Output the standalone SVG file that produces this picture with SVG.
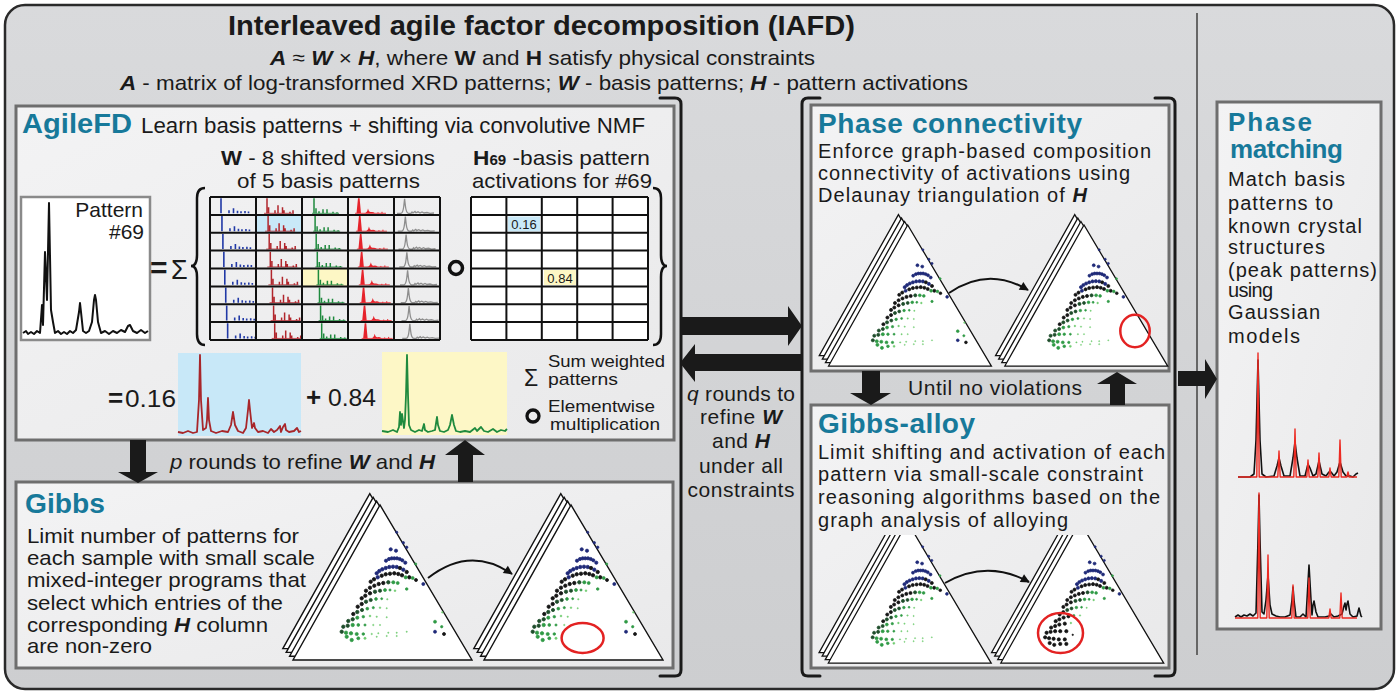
<svg xmlns="http://www.w3.org/2000/svg" width="1400" height="695" viewBox="0 0 1400 695">
<style>
.t{font-family:"Liberation Sans",Arial,sans-serif;fill:#1a1a1a}
.b{font-weight:bold}
.bi{font-weight:bold;font-style:italic}
.i{font-style:italic}
.teal{fill:#17799a;font-weight:bold}
.box{fill:url(#bx);stroke:#6e6e6e;stroke-width:3}
.arr{fill:#1a1a1a}
.brk{fill:none;stroke:#1a1a1a;stroke-width:3;stroke-linecap:round;stroke-linejoin:round}
.grid{fill:none;stroke:#111;stroke-width:2}
.tri{fill:#fff;stroke:#111;stroke-width:1.4}
.nv{fill:#1f2a78;stroke:#1f2a78;stroke-width:0.8}
.bk{fill:#151515;stroke:#151515;stroke-width:0.8}
.dg{fill:#1e4d2b;stroke:#1e4d2b;stroke-width:0.8}
.gr{fill:#2f9a45;stroke:#2f9a45;stroke-width:0.7}
.lg{fill:#72cc72;stroke:#72cc72;stroke-width:0.4}
.red{fill:none;stroke:#e32222;stroke-width:2.5}
.cv{fill:none;stroke:#111;stroke-width:2}
</style>
<defs>
<linearGradient id="bg" x1="0" y1="0" x2="0" y2="1"><stop offset="0" stop-color="#d9dadc"/><stop offset="1" stop-color="#cdced0"/></linearGradient>
<linearGradient id="bx" x1="0" y1="0" x2="1" y2="1"><stop offset="0" stop-color="#f3f3f4"/><stop offset="1" stop-color="#e9e9ea"/></linearGradient>
<marker id="ah" viewBox="0 0 10 10" refX="9" refY="5" markerWidth="11" markerHeight="9" markerUnits="userSpaceOnUse" orient="auto"><path d="M0,0 L10,5 L0,10 z" fill="#111"/></marker>
<clipPath id="clipAlloy"><rect x="815" y="535" width="352" height="132"/></clipPath>
<g id="tstack">
<polygon class="tri" points="-10.2,-11.4 -97.2,143.6 81.8,143.6"/>
<polygon class="tri" points="-6.8,-7.6 -93.8,147.4 85.2,147.4"/>
<polygon class="tri" points="-3.4,-3.8 -90.4,151.2 88.6,151.2"/>
<polygon class="tri" points="0,0 -87,155 92,155"/>
</g>
<g id="dA">
<circle class="nv" cx="16.7" cy="27.3" r="1.1"/><circle class="nv" cx="23.3" cy="37.7" r="1.2"/><circle class="nv" cx="26.7" cy="42.3" r="1.2"/>
<circle class="nv" cx="10.7" cy="44.3" r="1.6"/><circle class="nv" cx="16" cy="45.7" r="1.6"/>
<circle class="nv" cx="6" cy="55.7" r="1.6"/><circle class="nv" cx="9" cy="54" r="1.6"/><circle class="nv" cx="11.7" cy="53.3" r="1.6"/><circle class="nv" cx="14.3" cy="53.3" r="1.6"/><circle class="nv" cx="17" cy="53.3" r="1.6"/><circle class="nv" cx="19.7" cy="54" r="1.6"/><circle class="nv" cx="22.3" cy="55.3" r="1.6"/><circle class="nv" cx="25.3" cy="57.7" r="1.6"/>
<circle class="gr" cx="35.7" cy="59" r="1.1"/>
<circle class="nv" cx="-3.3" cy="68.3" r="1.7"/><circle class="nv" cx="-0.7" cy="66" r="1.7"/><circle class="nv" cx="2.3" cy="64.3" r="1.7"/><circle class="nv" cx="5.7" cy="63" r="1.7"/><circle class="nv" cx="9.3" cy="62" r="1.7"/><circle class="nv" cx="13" cy="61.7" r="1.7"/><circle class="nv" cx="16.7" cy="62" r="1.7"/><circle class="bk" cx="20" cy="63" r="1.7"/><circle class="nv" cx="23.3" cy="64.7" r="1.7"/><circle class="bk" cx="26.7" cy="67" r="1.7"/>
<circle class="bk" cx="29.3" cy="72.3" r="1.7"/><circle class="gr" cx="32.7" cy="73" r="1.5"/><circle class="bk" cx="36" cy="75" r="1.5"/><circle class="nv" cx="43.3" cy="79" r="1.5"/>
<circle class="bk" cx="-9.3" cy="76.7" r="1.7"/><circle class="bk" cx="-6" cy="74.3" r="1.7"/><circle class="nv" cx="-2.3" cy="72.3" r="1.7"/><circle class="bk" cx="1.7" cy="70.7" r="1.7"/><circle class="bk" cx="5.7" cy="69.3" r="1.7"/><circle class="bk" cx="10" cy="68.7" r="1.7"/><circle class="bk" cx="14.3" cy="68.3" r="1.7"/><circle class="bk" cx="18.3" cy="69" r="1.7"/><circle class="bk" cx="22" cy="70.3" r="1.7"/><circle class="gr" cx="25.7" cy="72.3" r="1.6"/>
<circle class="bk" cx="-14" cy="85.7" r="1.7"/><circle class="bk" cx="-10" cy="82.7" r="1.7"/><circle class="bk" cx="-5.7" cy="80.7" r="1.7"/><circle class="bk" cx="-1.3" cy="79" r="1.7"/><circle class="bk" cx="3.3" cy="78" r="1.7"/><circle class="dg" cx="8.3" cy="77.3" r="1.7"/><circle class="gr" cx="13.3" cy="77.3" r="1.6"/><circle class="gr" cx="17.7" cy="78" r="1.5"/><circle class="gr" cx="26.7" cy="84" r="1.3"/>
<circle class="bk" cx="-18.3" cy="93.3" r="1.7"/><circle class="bk" cx="-14.7" cy="90.7" r="1.7"/><circle class="bk" cx="-10" cy="88.3" r="1.7"/><circle class="dg" cx="-5" cy="86.7" r="1.7"/><circle class="dg" cx="0" cy="85.7" r="1.6"/><circle class="gr" cx="5" cy="85" r="1.5"/><circle class="gr" cx="10" cy="85" r="1.1"/><circle class="lg" cx="15" cy="85.7" r="1"/>
<circle class="bk" cx="-22.3" cy="101.7" r="1.7"/><circle class="bk" cx="-18.3" cy="99" r="1.7"/><circle class="dg" cx="-14" cy="96.7" r="1.7"/><circle class="dg" cx="-9.3" cy="95" r="1.6"/><circle class="gr" cx="-4" cy="94" r="1.4"/><circle class="gr" cx="1.7" cy="93.7" r="1"/><circle class="lg" cx="7.3" cy="94.3" r="0.8"/>
</g>
<g id="dLL">
<circle class="bk" cx="-26.7" cy="109" r="1.7"/><circle class="dg" cx="-22.7" cy="107" r="1.7"/><circle class="dg" cx="-18" cy="105" r="1.6"/><circle class="gr" cx="-12.7" cy="103.7" r="1.4"/><circle class="gr" cx="-6.7" cy="102.7" r="1.1"/><circle class="lg" cx="0" cy="102.7" r="0.9"/><circle class="lg" cx="6.7" cy="103.3" r="0.7"/>
<circle class="dg" cx="-31.7" cy="116" r="1.7"/><circle class="dg" cx="-27.3" cy="114.3" r="1.7"/><circle class="gr" cx="-22.7" cy="112.7" r="1.6"/><circle class="gr" cx="-16.7" cy="111.7" r="1.3"/><circle class="lg" cx="-10" cy="111" r="1"/><circle class="lg" cx="-3.3" cy="111.7" r="0.8"/>
<circle class="dg" cx="-36.7" cy="121.7" r="1.7"/><circle class="dg" cx="-32.3" cy="120.7" r="1.7"/><circle class="gr" cx="-27.3" cy="120" r="1.7"/><circle class="gr" cx="-21.7" cy="120" r="1.4"/><circle class="gr" cx="-15" cy="120" r="1.1"/><circle class="lg" cx="-6.7" cy="120" r="0.8"/>
<circle class="dg" cx="-38.3" cy="126.7" r="1.7"/><circle class="gr" cx="-34" cy="127.7" r="1.7"/><circle class="gr" cx="-29" cy="128.3" r="1.7"/><circle class="gr" cx="-23.3" cy="129" r="1.6"/><circle class="gr" cx="-16.7" cy="129" r="1.3"/>
<circle class="gr" cx="-33.3" cy="131.7" r="1.7"/><circle class="gr" cx="-28.3" cy="135" r="1.7"/><circle class="gr" cx="-21.7" cy="133.3" r="1.5"/><circle class="lg" cx="-15" cy="133.3" r="1.2"/>
</g>
<g id="dLLb">
<circle class="bk" cx="-26.7" cy="109" r="1.8"/><circle class="bk" cx="-22.7" cy="107" r="1.8"/><circle class="bk" cx="-18" cy="105" r="1.8"/><circle class="bk" cx="-12.7" cy="103.7" r="1.7"/><circle class="gr" cx="-6.7" cy="102.7" r="1.1"/><circle class="lg" cx="0" cy="102.7" r="0.9"/>
<circle class="bk" cx="-31.7" cy="116" r="1.8"/><circle class="bk" cx="-27.3" cy="114.3" r="1.8"/><circle class="bk" cx="-22.7" cy="112.7" r="1.8"/><circle class="bk" cx="-16.7" cy="111.7" r="1.8"/><circle class="lg" cx="-10" cy="111" r="1"/>
<circle class="bk" cx="-36.7" cy="121.7" r="1.8"/><circle class="bk" cx="-32.3" cy="120.7" r="1.8"/><circle class="bk" cx="-27.3" cy="120" r="1.8"/><circle class="bk" cx="-21.7" cy="120" r="1.8"/><circle class="bk" cx="-15" cy="120" r="1.8"/>
<circle class="bk" cx="-38.3" cy="126.7" r="1.8"/><circle class="bk" cx="-34" cy="127.7" r="1.8"/><circle class="bk" cx="-29" cy="128.3" r="1.8"/><circle class="bk" cx="-23.3" cy="129" r="1.8"/><circle class="bk" cx="-16.7" cy="129" r="1.8"/>
<circle class="bk" cx="-33.3" cy="133" r="1.8"/><circle class="bk" cx="-28.3" cy="135" r="1.8"/><circle class="bk" cx="-21.7" cy="134" r="1.8"/><circle class="bk" cx="-15" cy="134" r="1.8"/><circle class="bk" cx="-8" cy="124" r="0.8"/>
</g>
<g id="dTiny">
<circle class="lg" cx="0" cy="120" r="0.7"/><circle class="lg" cx="-8.3" cy="129" r="0.8"/><circle class="lg" cx="-1.7" cy="128.3" r="0.7"/><circle class="lg" cx="8.3" cy="127.7" r="0.7"/><circle class="lg" cx="16.7" cy="127.7" r="0.7"/><circle class="lg" cx="26.7" cy="126.7" r="0.7"/><circle class="lg" cx="-3.3" cy="131.7" r="0.7"/><circle class="lg" cx="6.7" cy="131" r="0.7"/><circle class="lg" cx="16.7" cy="131" r="0.7"/><circle class="lg" cx="6.7" cy="112.3" r="0.7"/>
</g>
<g id="dIso">
<circle class="lg" cx="62.3" cy="107.3" r="0.9"/><circle class="gr" cx="55" cy="116.7" r="1.5"/><circle class="gr" cx="61.7" cy="121.7" r="1.2"/><circle class="nv" cx="55" cy="126.7" r="1.5"/><circle class="bk" cx="64" cy="129" r="1.5"/>
</g>
<g id="p1"><path d="M11,16.3V1.2 M19,16.3v-3 M23.5,16.3v-5 M27.5,16.3v-2.5 M31,16.3v-2 M35,16.3v-2.2 M38.5,16.3v-1.8" stroke="#2139a6" stroke-width="1.6" fill="none"/></g>
<g id="p2"><path d="M8,16.3H38" stroke="#b1262c" stroke-width="0.8"/><path d="M11,16.3V1.2 M12.6,16.3v-6 M19,16.3v-3 M22,16.3v-8 M26.5,16.3v-6 M28,16.3v-3 M34,16.3v-1.5 M37,16.3v-3" stroke="#b1262c" stroke-width="1.5" fill="none"/></g>
<g id="p3"><path d="M10,16.3H37" stroke="#1f8a3e" stroke-width="0.8"/><path d="M12,16.3V1.2 M14,16.3v-5 M17,16.3v-2 M21,16.3v-4 M25,16.3v-4 M31,16.3v-1.5 M35,16.3v-1" stroke="#1f8a3e" stroke-width="1.5" fill="none"/></g>
<g id="p4"><path d="M7,16.3H38" stroke="#e6232b" stroke-width="0.8"/><path d="M8.5,16.3 L10,1.2 L11.6,1.2 L13,16.3 Z M16,16.3 Q19,16.3 20,11.5 Q21,15.5 23,15 Q25,14.5 27,16.3 Z" fill="#e6232b"/><path d="M30,16.3v-1 M34,16.3v-1.5" stroke="#e6232b" stroke-width="1"/></g>
<g id="p5"><path d="M3,16.3 L7,16.3 Q9,16 9.8,9 L10.6,1.8 L11.4,9 Q12.2,16 14.5,16.3 L17,16.3 L18,15 L19,16 L21,14.5 L22,15.8 L24,14.8 L26,16 L28,15 L30,16 L33,15.5 L36,16.3 L40,16" stroke="#8e8e8e" stroke-width="1.3" fill="none"/></g>
</defs>

<rect x="5" y="5" width="1389" height="684" rx="20" fill="url(#bg)" stroke="#2a2a2a" stroke-width="2.5"/>
<line x1="1197" y1="13" x2="1197" y2="655" stroke="#666" stroke-width="2"/>

<g id="title">
<text class="t b" x="228" y="35" font-size="28" textLength="627" lengthAdjust="spacingAndGlyphs">Interleaved agile factor decomposition (IAFD)</text>
<text class="t" x="270" y="65" font-size="21" textLength="545" lengthAdjust="spacingAndGlyphs"><tspan class="bi">A</tspan> ≈ <tspan class="bi">W</tspan> × <tspan class="bi">H</tspan>, where <tspan class="b">W</tspan> and <tspan class="b">H</tspan> satisfy physical constraints</text>
<text class="t" x="120" y="90" font-size="21" textLength="848" lengthAdjust="spacingAndGlyphs"><tspan class="bi">A</tspan> - matrix of log-transformed XRD patterns; <tspan class="bi">W</tspan> - basis patterns; <tspan class="bi">H</tspan> - pattern activations</text>
</g>

<g id="agilefd">
<rect class="box" x="16" y="106" width="658" height="334"/>
<text class="t teal" x="22" y="133" font-size="27" textLength="110" lengthAdjust="spacingAndGlyphs">AgileFD</text>
<text class="t" x="141" y="133" font-size="22" textLength="504" lengthAdjust="spacingAndGlyphs">Learn basis patterns + shifting via convolutive NMF</text>
<text class="t" x="221" y="165" font-size="21" textLength="214" lengthAdjust="spacingAndGlyphs"><tspan class="b">W</tspan> - 8 shifted versions</text>
<text class="t" x="237" y="188" font-size="21" textLength="183" lengthAdjust="spacingAndGlyphs">of 5 basis patterns</text>
<text class="t" x="473" y="165" font-size="21" textLength="177" lengthAdjust="spacingAndGlyphs"><tspan class="b">H</tspan><tspan class="b" font-size="14">69</tspan> -basis pattern</text>
<text class="t" x="472" y="188" font-size="21" textLength="180" lengthAdjust="spacingAndGlyphs">activations for #69</text>
<rect x="21" y="197" width="129" height="143" fill="#fff" stroke="#8a8a8a" stroke-width="2.5"/>
<text class="t" x="143" y="217" font-size="21" text-anchor="end">Pattern</text>
<text class="t" x="144" y="239" font-size="21" text-anchor="end">#69</text>
<path d="M23,333 L26,331 L28,334 L31,332 L34,334 L37,331 L40,333 L42,305 L43,325 L45,252 L47,300 L49,203 L51,310 L53,322 L55,333 L58,331 L61,334 L64,332 L67,334 L70,331 L73,333 L76,330 L79,312 L80,303 L81,312 L83,331 L86,333 L89,331 L92,322 L94,300 L95,295 L96,300 L98,322 L101,333 L105,331 L109,334 L113,331 L117,333 L121,330 L125,332 L128,326 L130,325 L133,331 L137,333 L141,330 L145,333 L148,331" fill="none" stroke="#111" stroke-width="2" stroke-linejoin="round"/>
<text class="t b" x="150" y="278" font-size="30">=</text>
<text class="t" x="171" y="279" font-size="27">Σ</text>
<path d="M205,188 Q197,188 197,198 L197,255 Q197,266 191,266 Q197,266 197,277 L197,334 Q197,345 205,345" fill="none" stroke="#111" stroke-width="2.5"/>
<rect x="256" y="214.9" width="46" height="17.85" fill="#c9e9f8"/>
<rect x="302" y="268.5" width="46" height="17.9" fill="#fdf7c5"/>
<use href="#p1" x="210" y="197"/><use href="#p1" x="210.95" y="214.875"/><use href="#p1" x="211.9" y="232.75"/><use href="#p1" x="212.85" y="250.625"/><use href="#p1" x="213.8" y="268.5"/><use href="#p1" x="214.75" y="286.375"/><use href="#p1" x="215.7" y="304.25"/><use href="#p1" x="216.65" y="322.125"/>
<use href="#p2" x="256" y="197"/><use href="#p2" x="257.1" y="214.875"/><use href="#p2" x="258.2" y="232.75"/><use href="#p2" x="259.3" y="250.625"/><use href="#p2" x="260.4" y="268.5"/><use href="#p2" x="261.5" y="286.375"/><use href="#p2" x="262.6" y="304.25"/><use href="#p2" x="263.7" y="322.125"/>
<use href="#p3" x="302" y="197"/><use href="#p3" x="303.1" y="214.875"/><use href="#p3" x="304.2" y="232.75"/><use href="#p3" x="305.3" y="250.625"/><use href="#p3" x="306.4" y="268.5"/><use href="#p3" x="307.5" y="286.375"/><use href="#p3" x="308.6" y="304.25"/><use href="#p3" x="309.7" y="322.125"/>
<use href="#p4" x="348" y="197"/><use href="#p4" x="348.95" y="214.875"/><use href="#p4" x="349.9" y="232.75"/><use href="#p4" x="350.85" y="250.625"/><use href="#p4" x="351.8" y="268.5"/><use href="#p4" x="352.75" y="286.375"/><use href="#p4" x="353.7" y="304.25"/><use href="#p4" x="354.65" y="322.125"/>
<use href="#p5" x="394" y="197"/><use href="#p5" x="394.75" y="214.875"/><use href="#p5" x="395.5" y="232.75"/><use href="#p5" x="396.25" y="250.625"/><use href="#p5" x="397" y="268.5"/><use href="#p5" x="397.75" y="286.375"/><use href="#p5" x="398.5" y="304.25"/><use href="#p5" x="399.25" y="322.125"/>
<path class="grid" d="M210,197V340 M256,197V340 M302,197V340 M348,197V340 M394,197V340 M440,197V340 M210,197H440 M210,214.9H440 M210,232.75H440 M210,250.6H440 M210,268.5H440 M210,286.4H440 M210,304.25H440 M210,322.1H440 M210,340H440"/>
<circle cx="456" cy="268" r="6.5" fill="none" stroke="#111" stroke-width="3.5"/>
<rect x="471" y="197" width="177" height="143" fill="#fff"/>
<rect x="508" y="216.5" width="32" height="15" fill="#c9e9f8"/>
<text class="t" x="524" y="229" font-size="13" text-anchor="middle">0.16</text>
<rect x="544" y="270" width="32" height="15" fill="#fdf7c5"/>
<text class="t" x="560" y="282.5" font-size="13" text-anchor="middle">0.84</text>
<path class="grid" d="M471,197V340 M506.4,197V340 M541.8,197V340 M577.2,197V340 M612.6,197V340 M648,197V340 M471,197H648 M471,214.9H648 M471,232.75H648 M471,250.6H648 M471,268.5H648 M471,286.4H648 M471,304.25H648 M471,322.1H648 M471,340H648"/>
<path d="M653,188 Q661,188 661,198 L661,255 Q661,266 667,266 Q661,266 661,277 L661,334 Q661,345 653,345" fill="none" stroke="#111" stroke-width="2.5"/>
<text class="t b" x="108" y="407" font-size="26">=</text>
<text class="t" x="125" y="407" font-size="24" textLength="51" lengthAdjust="spacingAndGlyphs">0.16</text>
<rect x="178" y="353" width="123" height="83" fill="#c8e8f8"/>
<path d="M178,432 L183,433 L188,431 L193,433 L197,432 L199,400 L200,355 L201,400 L203,430 L206,428 L207,420 L208,398 L209,420 L211,431 L216,433 L222,431 L228,432 L231,425 L233,412 L235,425 L238,431 L243,433 L246,428 L248,410 L249,400 L250,410 L252,428 L254,423 L255,428 L258,432 L263,431 L268,433 L271,429 L274,432 L277,430 L280,426 L281,432 L283,427 L285,424 L286,430 L289,432 L294,431 L297,428 L299,432 L301,431" fill="none" stroke="#a8262a" stroke-width="1.8" stroke-linejoin="round"/>
<text class="t b" x="306" y="406" font-size="26">+</text>
<text class="t" x="328" y="406" font-size="24" textLength="48" lengthAdjust="spacingAndGlyphs">0.84</text>
<rect x="382" y="352" width="125" height="83" fill="#fdf7c6"/>
<path d="M382,431 L388,432 L393,430 L397,432 L399,427 L400,412 L401,425 L402,414 L404,428 L405,420 L406,395 L407,355 L408,395 L409,425 L411,430 L415,432 L419,430 L422,431 L424,424 L425,430 L428,432 L432,431 L435,430 L437,417 L438,425 L440,431 L444,432 L448,430 L450,425 L452,415 L454,425 L456,431 L460,432 L465,431 L470,432 L475,428 L477,431 L481,427 L484,431 L488,432 L493,429 L497,432 L501,430 L505,431 L507,429" fill="none" stroke="#1f8a3e" stroke-width="1.8" stroke-linejoin="round"/>
<text class="t" x="524" y="386" font-size="23">Σ</text>
<text class="t" x="548" y="367" font-size="17" textLength="117" lengthAdjust="spacingAndGlyphs">Sum weighted</text>
<text class="t" x="548" y="385" font-size="17" textLength="70" lengthAdjust="spacingAndGlyphs">patterns</text>
<circle cx="533" cy="416" r="6" fill="none" stroke="#111" stroke-width="3.3"/>
<text class="t" x="548" y="412" font-size="17" textLength="107" lengthAdjust="spacingAndGlyphs">Elementwise</text>
<text class="t" x="550" y="430" font-size="17" textLength="110" lengthAdjust="spacingAndGlyphs">multiplication</text>
</g>

<g id="gibbs">
<rect class="box" x="16" y="482" width="657" height="186"/>
<text class="t teal" x="25" y="513" font-size="28" textLength="80" lengthAdjust="spacingAndGlyphs">Gibbs</text>
<text class="t" x="27" y="543" font-size="21" textLength="272" lengthAdjust="spacingAndGlyphs">Limit number of patterns for</text>
<text class="t" x="27" y="565" font-size="21" textLength="288" lengthAdjust="spacingAndGlyphs">each sample with small scale</text>
<text class="t" x="27" y="587" font-size="21" textLength="279" lengthAdjust="spacingAndGlyphs">mixed-integer programs that</text>
<text class="t" x="27" y="610" font-size="21" textLength="256" lengthAdjust="spacingAndGlyphs">select which entries of the</text>
<text class="t" x="27" y="632" font-size="21" textLength="241" lengthAdjust="spacingAndGlyphs">corresponding <tspan class="bi">H</tspan> column</text>
<text class="t" x="27" y="653" font-size="21" textLength="125" lengthAdjust="spacingAndGlyphs">are non-zero</text>
<g transform="translate(380,505)"><use href="#tstack"/><use href="#dA"/><use href="#dLL"/><use href="#dTiny"/><use href="#dIso"/></g>
<g transform="translate(571,505)"><use href="#tstack"/><use href="#dA"/><use href="#dLL"/><use href="#dIso"/></g>
<ellipse class="red" cx="582.6" cy="638" rx="21" ry="15"/>
<path class="cv" d="M428,578 Q470,545 512,574" marker-end="url(#ah)"/>
</g>

<g id="phase-connectivity">
<rect class="box" x="811" y="105" width="358" height="266"/>
<text class="t teal" x="818" y="133" font-size="28" textLength="264">Phase connectivity</text>
<text class="t" x="818" y="158" font-size="20" textLength="333">Enforce graph-based composition</text>
<text class="t" x="818" y="180" font-size="20" textLength="312">connectivity of activations using</text>
<text class="t" x="818" y="202" font-size="20" textLength="269">Delaunay triangulation of <tspan class="bi">H</tspan></text>
<g transform="translate(907.7,225) scale(0.91)"><use href="#tstack"/><use href="#dA"/><use href="#dLL"/><use href="#dTiny"/><use href="#dIso"/></g>
<g transform="translate(1084,225) scale(0.91)"><use href="#tstack"/><use href="#dA"/><use href="#dLL"/><use href="#dTiny"/></g>
<ellipse class="red" cx="1135" cy="331" rx="14.7" ry="16.3"/>
<path class="cv" d="M949,293 Q988,266 1028,290" marker-end="url(#ah)"/>
</g>

<g id="gibbs-alloy">
<rect class="box" x="811" y="405" width="358" height="263"/>
<text class="t teal" x="818" y="433" font-size="28" textLength="157">Gibbs-alloy</text>
<text class="t" x="818" y="459" font-size="20" textLength="347">Limit shifting and activation of each</text>
<text class="t" x="818" y="481" font-size="20" textLength="325">pattern via small-scale constraint</text>
<text class="t" x="818" y="504" font-size="20" textLength="342">reasoning algorithms based on the</text>
<text class="t" x="818" y="527" font-size="20" textLength="250">graph analysis of alloying</text>
<g clip-path="url(#clipAlloy)">
<g transform="translate(907.5,522) scale(0.91)"><use href="#tstack"/><use href="#dA"/><use href="#dLL"/><use href="#dTiny"/></g>
<g transform="translate(1080,522) scale(0.91)"><use href="#tstack"/><use href="#dA"/><use href="#dLLb"/></g>
</g>
<ellipse class="red" cx="1060.5" cy="633" rx="22.5" ry="20"/>
<path class="cv" d="M945,583 Q987,559 1029,582" marker-end="url(#ah)"/>
</g>

<g id="phase-matching">
<rect class="box" x="1217" y="102" width="164" height="527"/>
<text class="t teal" x="1228" y="131" font-size="26" textLength="84">Phase</text>
<text class="t teal" x="1230" y="158" font-size="26" textLength="113">matching</text>
<text class="t" x="1228" y="186" font-size="20" textLength="117">Match basis</text>
<text class="t" x="1228" y="210" font-size="20" textLength="105">patterns to</text>
<text class="t" x="1228" y="233" font-size="20" textLength="134">known crystal</text>
<text class="t" x="1228" y="254" font-size="20" textLength="97">structures</text>
<text class="t" x="1228" y="277" font-size="20" textLength="149">(peak patterns)</text>
<text class="t" x="1228" y="297" font-size="20" textLength="45">using</text>
<text class="t" x="1228" y="319" font-size="20" textLength="92">Gaussian</text>
<text class="t" x="1228" y="343" font-size="20" textLength="72">models</text>
<path d="M1238,477 L1250,477 L1254,474 L1256,440 L1258,360 L1260,440 L1262,474 L1266,477 L1274,476 L1277,466 L1279,458 L1281,466 L1284,476 L1290,476 L1293,458 L1295,442 L1297,458 L1300,476 L1305,476 L1307,468 L1308,464 L1310,468 L1313,476 L1316,474 L1319,461 L1322,474 L1326,476 L1329,472 L1331,472 L1334,476 L1337,472 L1340,462 L1343,472 L1346,476 L1350,476 L1353,477 L1356,474 L1358,473" fill="none" stroke="#111" stroke-width="1.6" stroke-linejoin="round"/>
<path d="M1238,477 L1256.8,477 L1258,353 L1259.2,477 L1277.8,477 L1279,451 L1280.2,477 L1293.8,477 L1295,429 L1296.2,477 L1306.8,477 L1308,460 L1309.2,477 L1317.8,477 L1319,453 L1320.2,477 L1328.8,477 L1330,468 L1331.2,477 L1338.8,477 L1340,440 L1341.2,477 L1346.8,477 L1348,472 L1349.2,477 L1357,477" fill="none" stroke="#ec2a22" stroke-width="1.4" stroke-linejoin="round"/>
<path d="M1235,617 L1238,615 L1241,617 L1244,615 L1247,616 L1250,614 L1253,616 L1256,613 L1258,540 L1259,495 L1260,540 L1262,612 L1264,614 L1266,600 L1268,575 L1270,605 L1272,614 L1276,616 L1280,617 L1285,617 L1290,615 L1292,600 L1293,587 L1294,600 L1296,617 L1300,617 L1303,614 L1306,617 L1307,600 L1309,565 L1311,600 L1312,615 L1313,605 L1314,601 L1316,612 L1318,617 L1325,617 L1329,616 L1331,614 L1334,617 L1338,616 L1342,614 L1344,606 L1345,603 L1346,610 L1347,604 L1348,601 L1350,614 L1353,617 L1357,616 L1359,608 L1361,616 L1362,617" fill="none" stroke="#111" stroke-width="1.6" stroke-linejoin="round"/>
<path d="M1235,618 L1257.8,618 L1259,493 L1260.2,618 L1266.8,618 L1268,555 L1269.2,618 L1291.8,618 L1293,585 L1294.2,618 L1307.8,618 L1309,578 L1310.2,618 L1328.8,618 L1330,609 L1331.2,618 L1339.8,618 L1341,593 L1342.2,618 L1357,618" fill="none" stroke="#ec2a22" stroke-width="1.4" stroke-linejoin="round"/>
</g>

<g id="connectors">
<path class="brk" d="M660,98 L675,98 Q681,98 681,104 L681,670 Q681,676 675,676 L660,676"/>
<path class="brk" d="M820,98 L808,98 Q802,98 802,104 L802,670 Q802,676 808,676 L820,676"/>
<path class="brk" d="M1155,98 L1169,98 Q1175,98 1175,104 L1175,670 Q1175,676 1169,676 L1155,676"/>
<polygon class="arr" points="681,317 788,317 788,306 802,326 788,346 788,335 681,335"/>
<polygon class="arr" points="802,354 695,354 695,344 680,363 695,382 695,371 802,371"/>
<polygon class="arr" points="130,440 146,440 146,472 158,472 138,483 118,472 130,472"/>
<polygon class="arr" points="458,482 473,482 473,455 485,455 465,440 445,455 458,455"/>
<polygon class="arr" points="862,371 880,371 880,393 891,393 871,405 850,393 862,393"/>
<polygon class="arr" points="1110,405 1125,405 1125,384 1137,384 1117,372 1097,384 1110,384"/>
<polygon class="arr" points="1178,371 1205,371 1205,359 1217,379 1205,399 1205,386 1178,386"/>
<text class="t" x="170" y="469" font-size="21" textLength="265" lengthAdjust="spacingAndGlyphs"><tspan class="i">p</tspan> rounds to refine <tspan class="bi">W</tspan> and <tspan class="bi">H</tspan></text>
<text class="t" x="741" y="401" font-size="21" text-anchor="middle" textLength="108"><tspan class="i">q</tspan> rounds to</text>
<text class="t" x="741" y="424" font-size="21" text-anchor="middle" textLength="82">refine <tspan class="bi">W</tspan></text>
<text class="t" x="741" y="448" font-size="21" text-anchor="middle" textLength="58">and <tspan class="bi">H</tspan></text>
<text class="t" x="741" y="473" font-size="21" text-anchor="middle" textLength="84">under all</text>
<text class="t" x="741" y="497" font-size="21" text-anchor="middle" textLength="107">constraints</text>
<text class="t" x="908" y="395" font-size="21" textLength="174">Until no violations</text>
</g>
</svg>
